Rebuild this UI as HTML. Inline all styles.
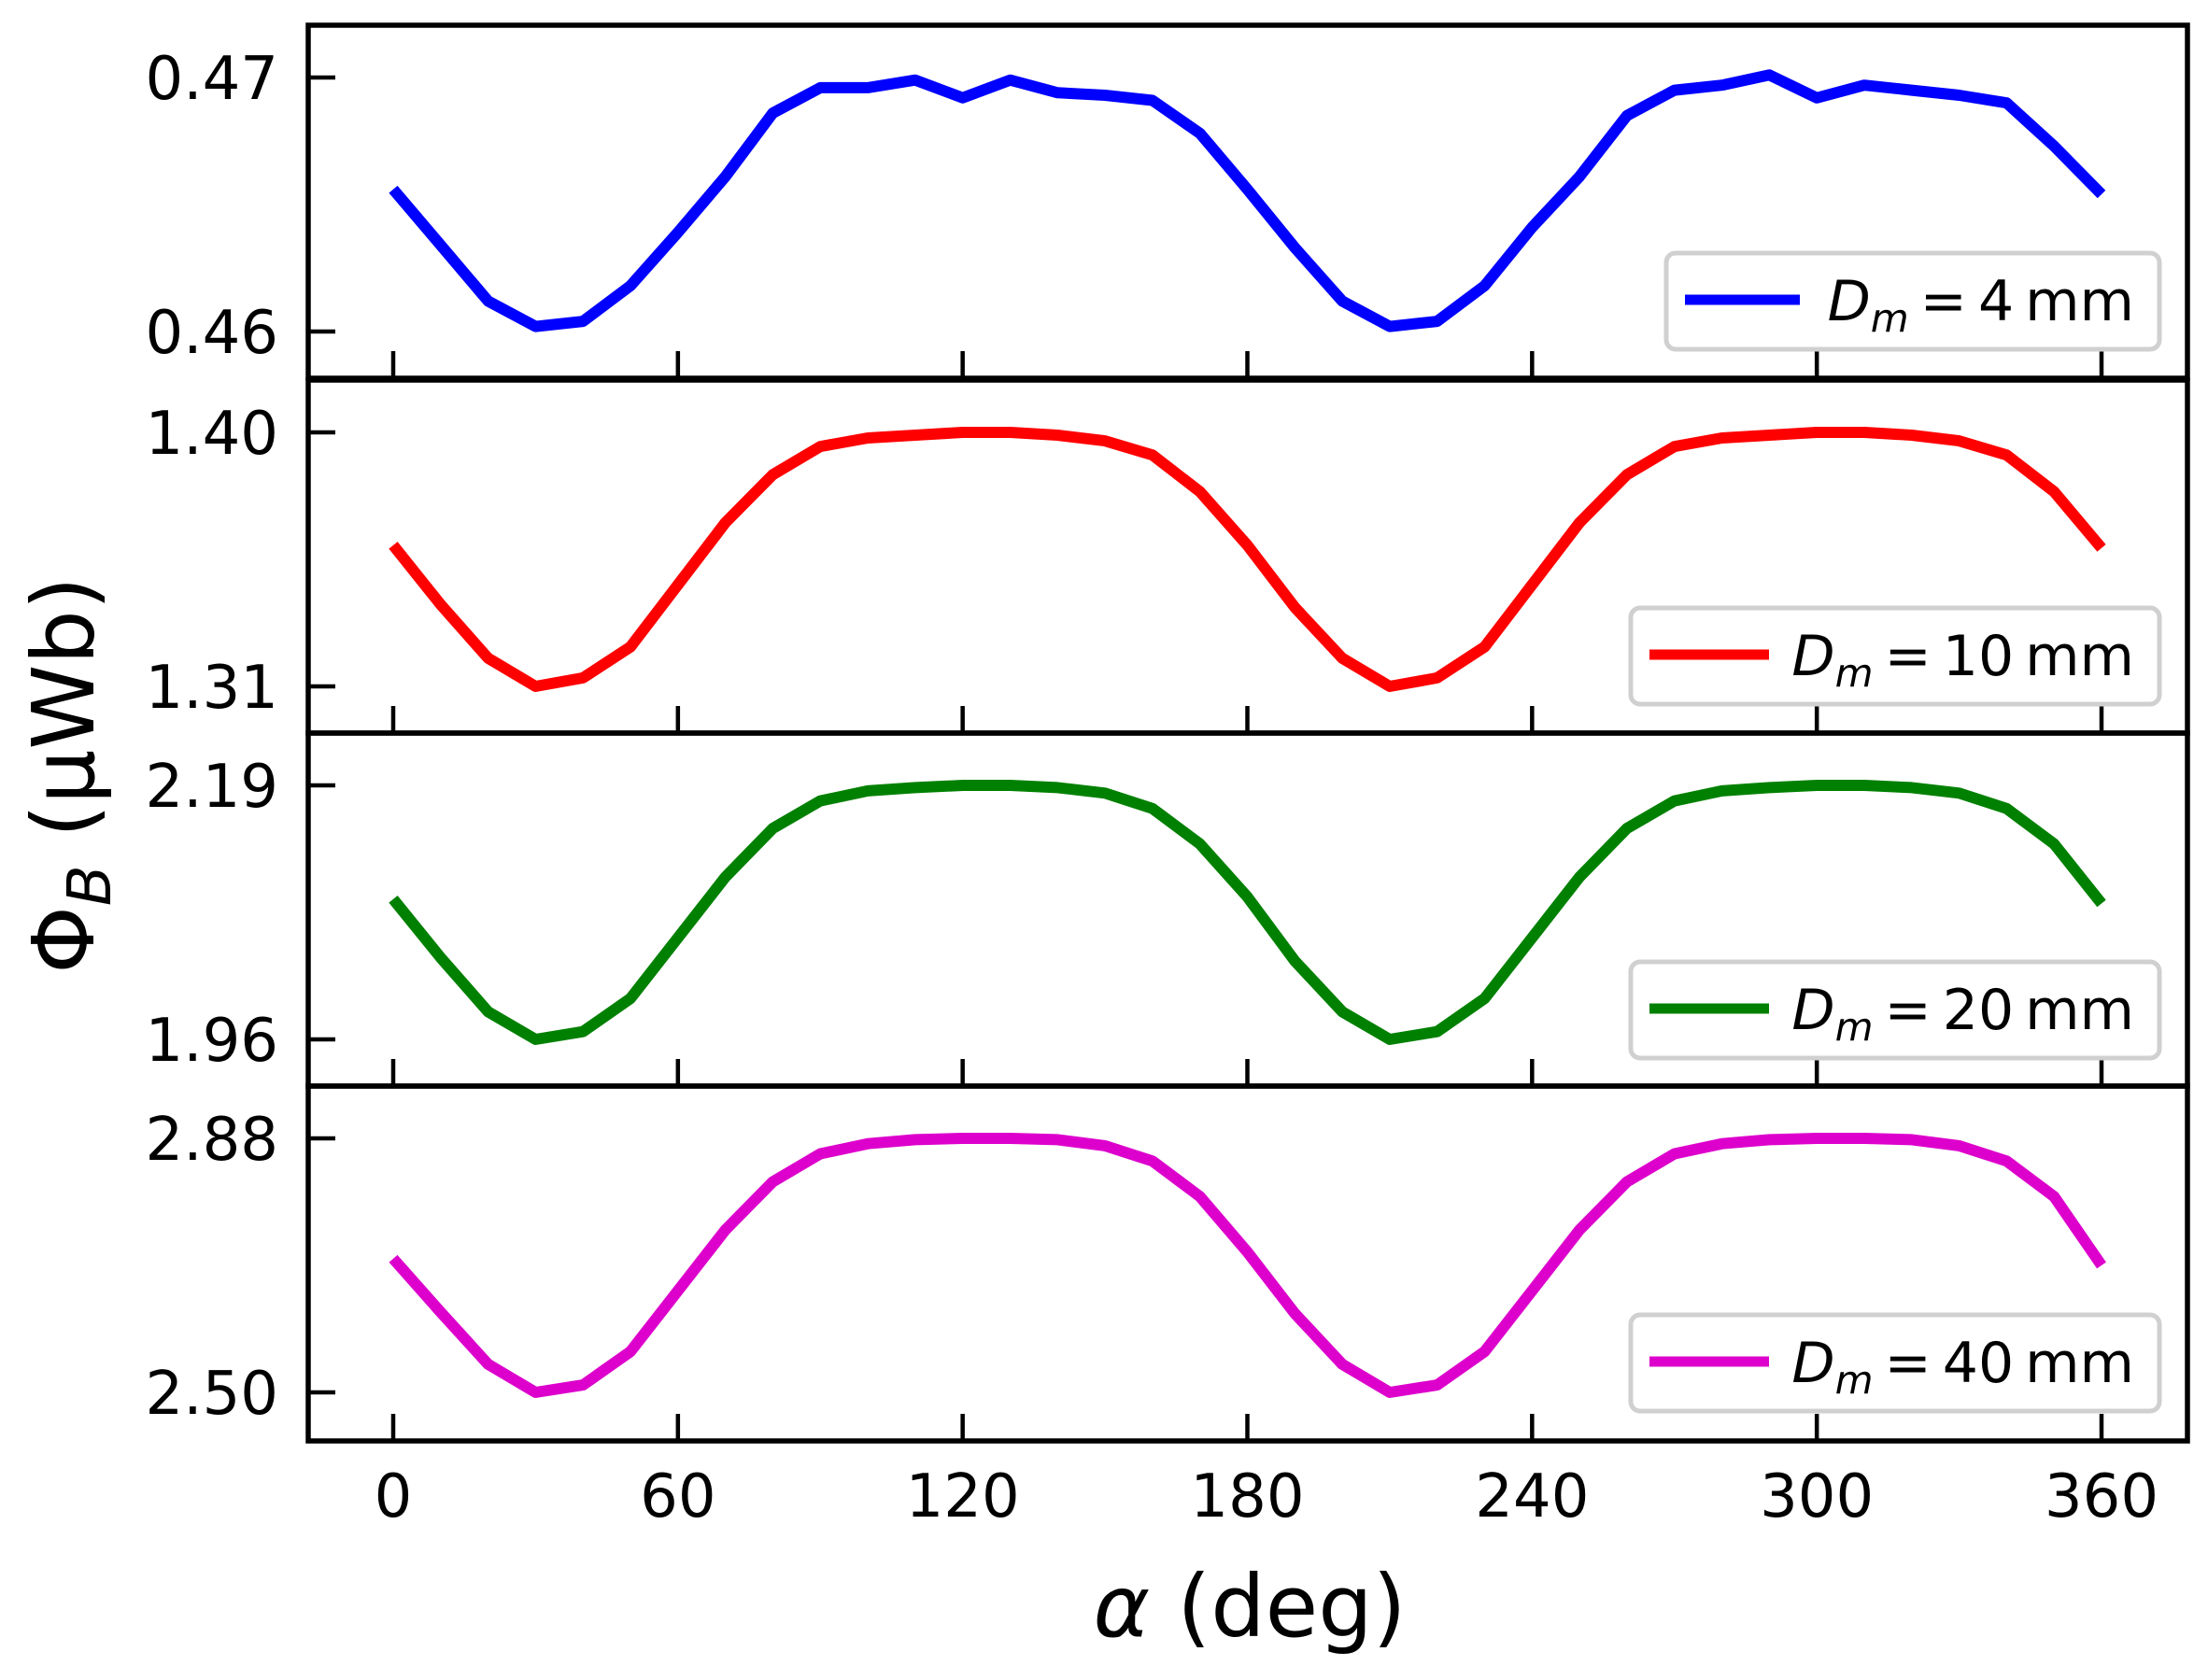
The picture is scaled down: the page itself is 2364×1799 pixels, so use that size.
<!DOCTYPE html>
<html><head><meta charset="utf-8"><style>
html,body{margin:0;padding:0;background:#fff;}
svg{display:block;font-family:"DejaVu Sans","Liberation Sans",sans-serif;}
</style></head><body>
<svg id="chart" width="2364" height="1799" viewBox="0 0 2364 1799" xmlns="http://www.w3.org/2000/svg">
<g id="layer"></g>
<text x="1338" y="1752" font-size="92" text-anchor="middle"><tspan font-style="italic">α</tspan> (deg)</text>
<text transform="translate(100,830) rotate(-90)" font-size="92" text-anchor="middle">Φ<tspan font-style="italic" font-size="64" dy="18">B</tspan><tspan dy="-18"> (μWb)</tspan></text>
</svg>
<script>
const angles = [0,10,20,30,40,50,60,70,80,90,100,110,120,130,140,150,160,170,180,190,200,210,220,230,240,250,260,270,280,290,300,310,320,330,340,350,360];
const xTicks = [0,60,120,180,240,300,360];
const series4 = [0.4656,0.4634,0.4612,0.4602,0.4604,0.4618,0.4639,0.4661,0.4686,0.4696,0.4696,0.4699,0.4692,0.4699,0.4694,0.4693,0.4691,0.4678,0.4656,0.4633,0.4612,0.4602,0.4604,0.4618,0.4641,0.4661,0.4685,0.4695,0.4697,0.4701,0.4692,0.4697,0.4695,0.4693,0.4690,0.4673,0.4654];
const series10 = [1.360,1.339,1.320,1.310,1.313,1.324,1.346,1.368,1.385,1.395,1.398,1.399,1.400,1.400,1.399,1.397,1.392,1.379,1.360,1.338,1.320,1.310,1.313,1.324,1.346,1.368,1.385,1.395,1.398,1.399,1.400,1.400,1.399,1.397,1.392,1.379,1.359];
const series20 = [2.087,2.034,1.985,1.960,1.967,1.997,2.052,2.107,2.151,2.176,2.185,2.188,2.190,2.190,2.188,2.183,2.169,2.137,2.089,2.031,1.985,1.960,1.967,1.997,2.052,2.107,2.151,2.176,2.185,2.188,2.190,2.190,2.188,2.183,2.169,2.137,2.083];
const series40 = [2.700,2.620,2.542,2.500,2.511,2.561,2.652,2.743,2.815,2.857,2.872,2.878,2.880,2.880,2.878,2.869,2.846,2.793,2.710,2.618,2.542,2.500,2.511,2.561,2.652,2.743,2.815,2.857,2.872,2.878,2.880,2.880,2.878,2.869,2.846,2.793,2.690];
const yTicks4 = [0.46,0.47], yTicks10 = [1.31,1.40], yTicks20 = [1.96,2.19], yTicks40 = [2.50,2.88];
const yLabels4 = ["0.46","0.47"], yLabels10 = ["1.31","1.40"], yLabels20 = ["1.96","2.19"], yLabels40 = ["2.50","2.88"];
const legendLabels = ["4","10","20","40"];

const NS="http://www.w3.org/2000/svg";
const layer=document.getElementById('layer');
function mk(tag,attrs,parent){const e=document.createElementNS(NS,tag);for(const k in attrs)e.setAttribute(k,attrs[k]);(parent||layer).appendChild(e);return e;}
const L=330,R=2342;
function xs(a){return 421+(a-0)/(360-0)*(2250-421);}
const panelTops=[27,407,785,1163];
const panels=[
 {data:series4,ticks:yTicks4,labels:yLabels4,color:"#0000ff",name:"4mm"},
 {data:series10,ticks:yTicks10,labels:yLabels10,color:"#ff0000",name:"10mm"},
 {data:series20,ticks:yTicks20,labels:yLabels20,color:"#008000",name:"20mm"},
 {data:series40,ticks:yTicks40,labels:yLabels40,color:"#dd00cc",name:"40mm"}];
const legW=[528,566,566,566];
panels.forEach((p,i)=>{
  const top=panelTops[i], bot=top+(i==3?380:378);
  const lo=p.ticks[0], hi=p.ticks[1];
  const yTop=top+56, yBot=top+328;
  const ys=v=>yTop+(hi-v)/(hi-lo)*(yBot-yTop);
  const g=mk('g',{});
  
  
  let d='';
  p.data.forEach((v,k)=>{d+=(k?'L':'M')+xs(angles[k]).toFixed(1)+','+ys(v).toFixed(1);});
  const path=mk('path',{d:d,fill:'none',stroke:p.color,'stroke-width':12,'stroke-linejoin':'round'},g);
  
  
  xTicks.forEach(t=>{
    const tk=mk('line',{x1:xs(t),x2:xs(t),y1:bot,y2:bot-29,stroke:'#000','stroke-width':4.5},g);
    
    
  });
  p.ticks.forEach((t,k)=>{
    const tk=mk('line',{x1:L,x2:L+29,y1:ys(t),y2:ys(t),stroke:'#000','stroke-width':4.5},g);
    
    
    const tl=mk('text',{x:298,y:ys(t)+23,'font-size':64,'text-anchor':'end'},g);
    tl.textContent=p.labels[k];
    
    
  });
  const lx=2312-legW[i], ly=i==0?271:[0,651,1030,1408][i];
  const lg=mk('g',{},g);
  
  
  mk('rect',{x:lx,y:ly,width:legW[i],height:103,rx:10,fill:'#fff',stroke:'#d0d0d0','stroke-width':5},lg);
  mk('line',{x1:lx+20,x2:lx+20+(i==0?123:128),y1:ly+50,y2:ly+50,stroke:p.color,'stroke-width':11},lg);
  const lt=mk('text',{x:2285,y:ly+72,'font-size':60,'text-anchor':'end'},lg);
  lt.innerHTML='<tspan font-style="italic">D</tspan><tspan font-style="italic" font-size="42" dy="12">m</tspan><tspan dy="-12">\u2009=\u2009'+legendLabels[i]+'\u2009mm</tspan>';
  const fr=mk('rect',{x:L,y:top,width:R-L,height:bot-top,fill:'none',stroke:'#000','stroke-width':5.5},g);
  
  
});
xTicks.forEach(t=>{
  const tl=mk('text',{x:xs(t),y:1624,'font-size':64,'text-anchor':'middle'});
  tl.textContent=t;
  
  
});
</script>
</body></html>
